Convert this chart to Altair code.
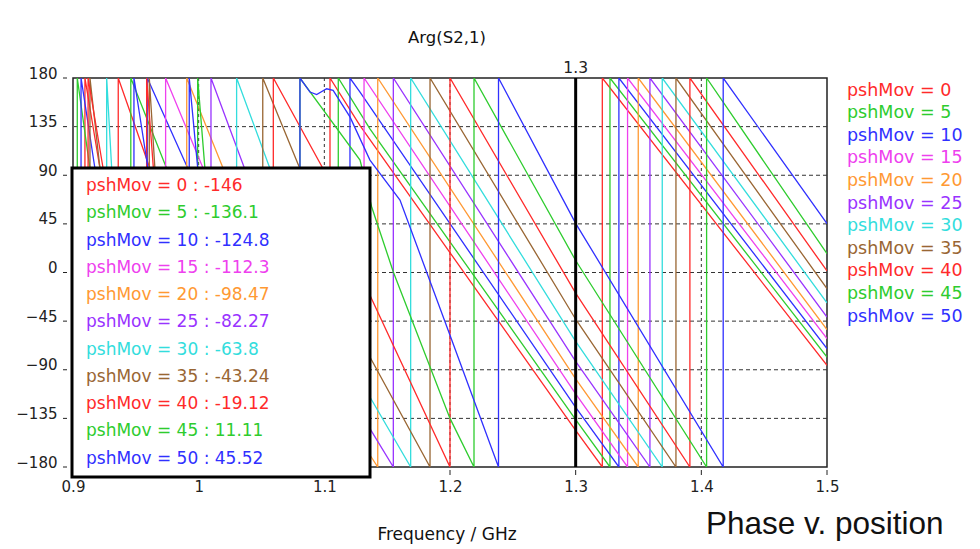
import altair as alt
import pandas as pd

# ---------------- data ----------------
labels = ["pshMov = 0", "pshMov = 5", "pshMov = 10", "pshMov = 15", "pshMov = 20",
          "pshMov = 25", "pshMov = 30", "pshMov = 35", "pshMov = 40", "pshMov = 45",
          "pshMov = 50"]
colors = ["#ff2a2a", "#2ecc2e", "#3030ff", "#ee40ee", "#ff9933", "#9933ff",
          "#33dddd", "#996633", "#ff2a2a", "#2ecc2e", "#3030ff"]
marker_values = ["-146", "-136.1", "-124.8", "-112.3", "-98.47", "-82.27",
                 "-63.8", "-43.24", "-19.12", "11.11", "45.52"]

f00 = [0.900, 0.9095, 0.9095, 0.9215, 0.936, 0.936, 0.9613, 1.1045, 1.1045, 1.1284, 1.300, 1.3212, 1.3212, 1.500]
p00 = [-120, -180, 180, 96, -180, 180, 96, -180, 180, 136, -146, -180, 180, -85.9]
f05 = [0.900, 0.9034, 0.9034, 0.9135, 0.946, 0.946, 0.9746, 1.1111, 1.1111, 1.1363, 1.300, 1.3273, 1.3273, 1.500]
p05 = [-150, -180, 180, 96, -180, 180, 96, -180, 180, 133, -136.1, -180, 180, -78.2]
f10 = [0.900, 0.9064, 0.9064, 0.9175, 0.9591, 0.9591, 0.9915, 1.1204, 1.1204, 1.1284, 1.300, 1.3344, 1.3344, 1.500]
p10 = [-130, -180, 180, 96, -180, 180, 96, -180, 180, 167, -124.8, -180, 180, -70.5]
f15 = [0.900, 0.9737, 0.9737, 1.0037, 1.1316, 1.1316, 1.300, 1.3413, 1.3413, 1.500]
p15 = [60, -180, 180, 96, -180, 180, -112.3, -180, 180, -61.2]
f20 = [0.900, 0.9905, 0.9905, 1.0196, 1.1363, 1.1425, 1.1425, 1.300, 1.3498, 1.3498, 1.500]
p20 = [80, -180, 180, 96, -168.9, -180, 180, -98.47, -180, 180, -52.9]
f25 = [0.900, 1.0098, 1.0098, 1.0366, 1.1363, 1.1549, 1.1549, 1.300, 1.3591, 1.3591, 1.500]
p25 = [90, -180, 180, 96, -144.5, -180, 180, -82.27, -180, 180, -41.2]
f30 = [0.900, 0.9268, 0.9268, 0.9308, 1.0302, 1.0302, 1.0568, 1.1363, 1.1687, 1.1687, 1.300, 1.3689, 1.3689, 1.500]
p30 = [-100, -180, 180, 96, -180, 180, 96, -115.2, -180, 180, -63.8, -180, 180, -28.2]
f35 = [0.900, 0.9135, 0.9135, 0.9215, 0.9607, 0.9607, 0.9652, 1.051, 1.051, 1.0806, 1.1363, 1.1841, 1.1841, 1.300, 1.3798, 1.3798, 1.500]
p35 = [-120, -180, 180, 96, -180, 180, 96, -180, 180, 96, -78.2, -180, 180, -43.24, -180, 180, -15]
f40 = [0.900, 0.912, 0.912, 0.924, 0.9586, 0.9586, 0.964, 1.0594, 1.0594, 1.099, 1.1363, 1.200, 1.200, 1.300, 1.3909, 1.3909, 1.500]
p40 = [-120, -180, 180, 96, -180, 180, 96, -180, 180, 96, -21, -180, 180, -19.12, -180, 180, 1.4]
f45 = [0.900, 0.9992, 0.9992, 1.005, 1.0806, 1.0806, 1.1284, 1.1377, 1.1549, 1.200, 1.2191, 1.2191, 1.300, 1.4042, 1.4042, 1.500]
p45 = [-100, -180, 180, 96, -180, 180, 104, 60.6, 0.5, -135, -180, 180, 11.11, -180, 180, 17.4]
f50 = [0.900, 0.9485, 0.9485, 0.9597, 0.9925, 0.9925, 0.9993, 1.0806, 1.0806, 1.0886, 1.0939, 1.1018, 1.107, 1.1204, 1.1363, 1.1602, 1.200, 1.2386, 1.2386, 1.300, 1.4174, 1.4174, 1.500]
p50 = [-100, -180, 180, 96, -180, 180, 96, -180, 180, 167, 164.6, 170, 168.6, 144, 104, 67, -58, -180, 180, 45.52, -180, 180, 45.2]

series_f = [f00, f05, f10, f15, f20, f25, f30, f35, f40, f45, f50]
series_p = [p00, p05, p10, p15, p20, p25, p30, p35, p40, p45, p50]

x_ticks = [0.9, 1.0, 1.1, 1.2, 1.3, 1.4, 1.5]
y_ticks = [-180, -135, -90, -45, 0, 45, 90, 135, 180]
h_grid = [-135, -90, -45, 0, 45, 90, 135]
v_grid = [1.0, 1.1, 1.2, 1.4]
marker_freq = [1.3]

# ---------------- build table ----------------
rows = []
for lab, fs, ps in zip(labels, series_f, series_p):
    for i, (f, p) in enumerate(zip(fs, ps)):
        rows.append({"s": lab, "f": f, "p": p, "i": i})
df = pd.DataFrame(rows)

W, H = 754, 389
FONT = "DejaVu Sans"

xscale = alt.Scale(domain=[0.9, 1.5], nice=False, zero=False)
yscale = alt.Scale(domain=[-180, 180], nice=False, zero=False)

xax = alt.Axis(values=x_ticks, format=".1~f", title=None, grid=False, ticks=False,
               domain=False, labelPadding=12, labelFontSize=15, labelFont=FONT,
               labelColor="#222", labelFlush=False)
yax = alt.Axis(values=y_ticks, title=None, grid=False, ticks=False, domain=False,
               labelPadding=16, labelFontSize=15, labelFont=FONT, labelColor="#222",
               labelBaseline="alphabetic", labelFlush=False)

hgrid = alt.Chart(pd.DataFrame({"p": h_grid})).mark_rule(
    color="#333", strokeWidth=1, strokeDash=[4, 3]).encode(
    y=alt.Y("p:Q", scale=yscale, axis=yax))
vgrid = alt.Chart(pd.DataFrame({"f": v_grid})).mark_rule(
    color="#333", strokeWidth=1, strokeDash=[3, 3]).encode(
    x=alt.X("f:Q", scale=xscale, axis=xax))

lines = alt.Chart(df).mark_line(strokeWidth=1.3, clip=True).encode(
    x=alt.X("f:Q", scale=xscale, axis=xax),
    y=alt.Y("p:Q", scale=yscale, axis=yax),
    color=alt.Color("s:N", scale=alt.Scale(domain=labels, range=colors), legend=None),
    detail="s:N",
    order=alt.Order("i:Q"),
)

marker = alt.Chart(pd.DataFrame({"f": marker_freq})).mark_rule(
    color="black", strokeWidth=3).encode(x=alt.X("f:Q", scale=xscale))
marker_lbl = alt.Chart(pd.DataFrame({"f": marker_freq, "t": ["1.3"]})).mark_text(
    font=FONT, fontSize=15.5, color="#222", baseline="alphabetic", align="center").encode(
    x=alt.X("f:Q", scale=xscale), y=alt.value(-5), text="t:N")

yt = alt.Chart(pd.DataFrame({"p": y_ticks})).mark_rule(color="#222", strokeWidth=1).encode(
    y=alt.Y("p:Q", scale=yscale), x=alt.value(-10), x2=alt.value(-6))
xt = alt.Chart(pd.DataFrame({"f": x_ticks})).mark_rule(color="#222", strokeWidth=1).encode(
    x=alt.X("f:Q", scale=xscale), y=alt.value(H + 3), y2=alt.value(H + 8))

one = pd.DataFrame({"a": [0]})
box = alt.Chart(one).mark_rect(fill="white", stroke="black", strokeWidth=3).encode(
    x=alt.value(-1), x2=alt.value(297), y=alt.value(90), y2=alt.value(399))

layers = [hgrid, vgrid, lines, marker, marker_lbl, yt, xt, box]

for k, (lab, col, mv) in enumerate(zip(labels, colors, marker_values)):
    layers.append(alt.Chart(one).mark_text(
        text=f"{lab} : {mv}", font=FONT, fontSize=17, color=col, align="left",
        baseline="middle").encode(x=alt.value(13), y=alt.value(108 + 27.25 * k)))
    layers.append(alt.Chart(one).mark_text(
        text=lab, font=FONT, fontSize=17.5, color=col, align="left",
        baseline="middle").encode(x=alt.value(774), y=alt.value(12.5 + 22.6 * k)))

texts = [
    ("Arg(S2,1)", 374, -40.5, 16.5, FONT, "center", "middle"),
    ("Frequency / GHz", 374, 457, 17, FONT, "center", "middle"),
    ("Phase v. position", 633, 456, 31.5, "Liberation Sans", "left", "alphabetic"),
]
for t, x, y, fs, fnt, al, bl in texts:
    layers.append(alt.Chart(one).mark_text(
        text=t, font=fnt, fontSize=fs, color="#111", align=al, baseline=bl).encode(
        x=alt.value(x), y=alt.value(y)))

chart = alt.layer(*layers).properties(
    width=W, height=H,
    autosize=alt.AutoSizeParams(type="none"),
    padding={"left": 65, "top": 70, "right": 145, "bottom": 82},
    background="white",
).configure_view(stroke="#222", strokeWidth=1.5)

chart.save("out.html", embed_options={"renderer": "svg", "actions": False})
